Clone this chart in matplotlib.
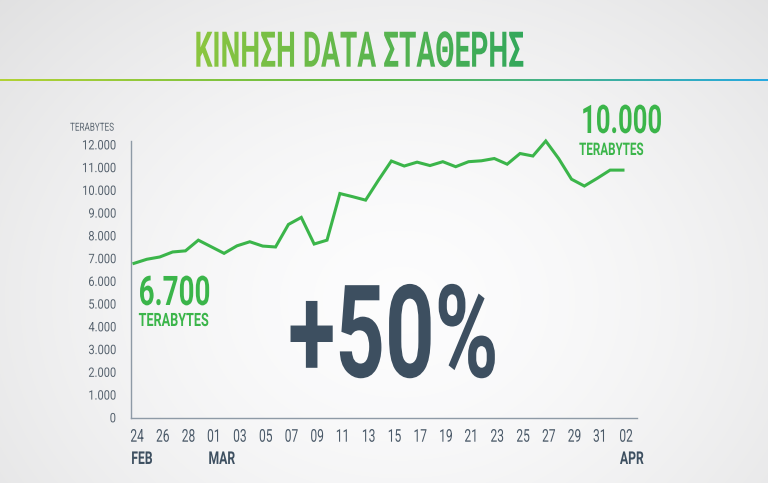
import numpy as np
import matplotlib
matplotlib.use('Agg')
import matplotlib.pyplot as plt
from matplotlib import patheffects
from matplotlib.transforms import Affine2D, TransformedPath, ScaledTranslation

# data (terabytes per day, 24 Feb -> 02 Apr)
values = [6770, 6950, 7050, 7270, 7320, 7790, 7500, 7210, 7540, 7720,
          7530, 7490, 8480, 8790, 7620, 7790, 9840, 9700, 9550, 10430,
          11270, 11050, 11220, 11070, 11240, 11020, 11240, 11280, 11380, 11130,
          11600, 11490, 12150, 11380, 10470, 10170, 10510, 10870, 10870]
day_labels = ['24', '26', '28', '01', '03', '05', '07', '09', '11', '13',
              '15', '17', '19', '21', '23', '25', '27', '29', '31', '02']
month_labels = ['FEB', 'MAR', 'APR']
month_index = [0, 6, 38]
y_ticks = list(range(0, 12001, 1000))
y_labels = ['0', '1.000', '2.000', '3.000', '4.000', '5.000', '6.000',
            '7.000', '8.000', '9.000', '10.000', '11.000', '12.000']

title = 'ΚΙΝΗΣΗ DATA ΣΤΑΘΕΡΗΣ'
FONT = 'Roboto'
GREEN = '#3bb54a'
SLATE = '#3d4f60'
W, H = 768, 483


def _squeeze_affine(tpath, affine, sx, anchor):
    ext = tpath.get_extents()
    if anchor == 'left':
        cx = ext.x0
    elif anchor == 'right':
        cx = ext.x1
    else:
        cx = (ext.x0 + ext.x1) / 2
    return Affine2D().translate(-cx, 0).scale(sx, 1).translate(cx, 0) + affine


class Squeeze(patheffects.AbstractPathEffect):
    """draw text narrower, to get a condensed look"""
    def __init__(self, sx, anchor='center'):
        super().__init__()
        self.sx = sx
        self.anchor = anchor

    def draw_path(self, renderer, gc, tpath, affine, rgbFace=None):
        aff = _squeeze_affine(tpath, affine, self.sx, self.anchor)
        renderer.draw_path(gc, tpath, aff, rgbFace)


class GradientFill(Squeeze):
    """condensed text filled with a left->right colour gradient"""
    def __init__(self, c0, c1, sx, anchor='center'):
        super().__init__(sx, anchor)
        self.c0 = np.array(matplotlib.colors.to_rgb(c0))
        self.c1 = np.array(matplotlib.colors.to_rgb(c1))

    def draw_path(self, renderer, gc, tpath, affine, rgbFace=None):
        aff = _squeeze_affine(tpath, affine, self.sx, self.anchor)
        ext = aff.transform_path(tpath).get_extents()
        w = int(np.ceil(ext.width)) + 4
        h = int(np.ceil(ext.height)) + 4
        t = np.linspace(0, 1, w)[None, :, None]
        rgb = self.c0 * (1 - t) + self.c1 * t
        img = np.ones((h, w, 4))
        img[..., :3] = rgb
        img = (img * 255).astype(np.uint8)
        gc2 = renderer.new_gc()
        gc2.copy_properties(gc)
        gc2.set_clip_path(TransformedPath(tpath, aff))
        renderer.draw_image(gc2, int(ext.x0) - 2, int(ext.y0) - 2, img)
        gc2.restore()


def px(x, y):
    return x / W, 1 - y / H


fig = plt.figure(figsize=(W / 100, H / 100), dpi=100)

# background: soft radial grey + coloured rule under the title
bg = fig.add_axes([0, 0, 1, 1], zorder=-10)
yy, xx = np.mgrid[0:H, 0:W]
r = np.sqrt(((xx - 400) / 520) ** 2 + ((yy - 300) / 420) ** 2)
shade = np.clip(0.99 - 0.10 * r ** 1.6, 0, 1)
bg.imshow(np.dstack([shade, shade, shade + 0.003]).clip(0, 1),
          extent=[0, W, H, 0], aspect='auto', interpolation='bilinear')
rule = matplotlib.colors.LinearSegmentedColormap.from_list(
    'rule', ['#b2d235', '#5cb947', '#27a9e1'])
bg.imshow(np.linspace(0, 1, 256)[None, :], cmap=rule,
          extent=[0, W, 81.5, 79.5], aspect='auto')
bg.set_xlim(0, W)
bg.set_ylim(H, 0)
bg.axis('off')

# main chart
ax = fig.add_axes([131 / W, 65 / H, (637 - 131) / W, (418 - 141) / H])
ax.set_facecolor('none')
x = np.arange(len(values))
ax.plot(x, values, color=GREEN, lw=2.2, solid_joinstyle='miter',
        clip_on=False, zorder=3)
ax.set_xlim(-0.233, 39.09)
ax.set_ylim(-30, 12150)

for side in ['top', 'right']:
    ax.spines[side].set_visible(False)
for side in ['left', 'bottom']:
    ax.spines[side].set_color('#8e9aa6')
    ax.spines[side].set_linewidth(1.0)

ax.set_yticks(y_ticks)
ax.set_yticklabels(y_labels, fontsize=9.4, family=FONT, color='#56626e')
ax.tick_params(axis='y', length=0, pad=10.8)
for lbl in ax.get_yticklabels():
    lbl.set_path_effects([Squeeze(0.85, 'right')])

ax.set_xticks(x[::2])
ax.set_xticklabels(day_labels, fontsize=12.7, family=FONT, color='#4a5968')
ax.tick_params(axis='x', length=0, pad=7)
shift = ScaledTranslation(3 / 100, 0, fig.dpi_scale_trans)
for lbl in ax.get_xticklabels():
    lbl.set_path_effects([Squeeze(0.68, 'center')])
    lbl.set_transform(lbl.get_transform() + shift)

for name, i in zip(month_labels, month_index):
    ax.annotate(name, xy=(i, 0), xycoords=('data', 'axes fraction'),
                xytext=(-2.2, -33.1), textcoords='offset points',
                ha='left', va='baseline', fontsize=12.7, weight='bold',
                family=FONT, color=SLATE,
                path_effects=[Squeeze(0.69, 'left')])

# axis unit
fig.text(*px(70, 130.7), 'TERABYTES', ha='left', va='baseline', fontsize=8,
         family=FONT, color='#5d6873', path_effects=[Squeeze(0.73, 'left')])

# title
fig.text(*px(359, 66.7), title, ha='center', va='baseline', fontsize=35.4,
         weight='bold', family=FONT,
         path_effects=[GradientFill('#8cc63f', '#33a85c', 0.57, 'center')])

# start / end callouts
fig.text(*px(138, 305), '6.700', ha='left', va='baseline', fontsize=29.4,
         weight='bold', family=FONT, color=GREEN,
         path_effects=[Squeeze(0.68, 'left')])
fig.text(*px(138.5, 326), 'TERABYTES', ha='left', va='baseline', fontsize=13.2,
         weight='bold', family=FONT, color=GREEN,
         path_effects=[Squeeze(0.69, 'left')])
fig.text(*px(580, 133), '10.000', ha='left', va='baseline', fontsize=28.4,
         weight='bold', family=FONT, color=GREEN,
         path_effects=[Squeeze(0.65, 'left')])
fig.text(*px(579, 155), 'TERABYTES', ha='left', va='baseline', fontsize=12.5,
         weight='bold', family=FONT, color=GREEN,
         path_effects=[Squeeze(0.67, 'left')])

# growth
fig.text(*px(393.5, 377), '+50%', ha='center', va='baseline', fontsize=93,
         weight='bold', family=FONT, color=SLATE,
         path_effects=[Squeeze(0.67, 'center')])

fig.savefig('out.png', dpi=100)
